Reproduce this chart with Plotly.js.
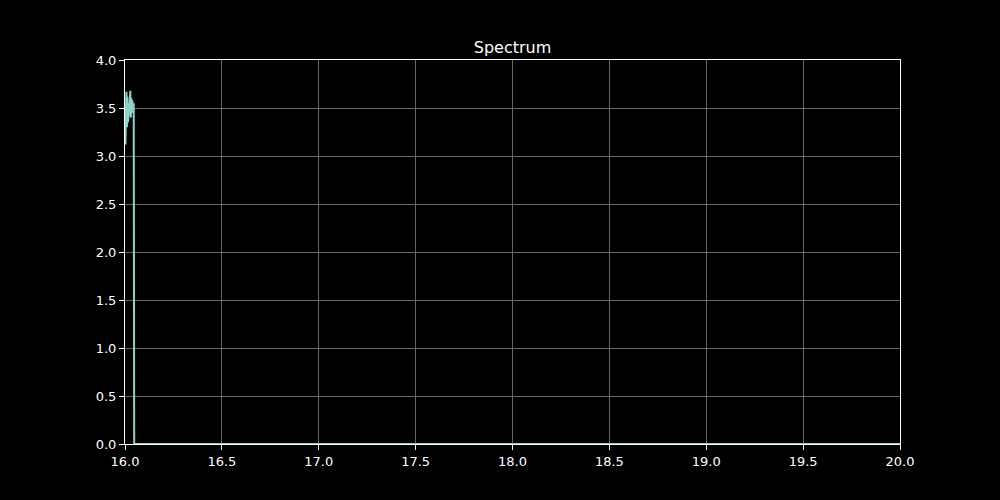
<!DOCTYPE html>
<html>
<head>
<meta charset="utf-8">
<script src="https://cdn.plot.ly/plotly-3.0.1.min.js"></script>
<style>html,body{margin:0;padding:0;background:#000;}#chart{width:1000px;height:500px;}</style>
</head>
<body>
<div id="chart"></div>
<script>
const freq = [16.000, 16.0025, 16.005, 16.0075, 16.010, 16.0125, 16.015, 16.0175, 16.020, 16.0225, 16.025, 16.0275, 16.030, 16.0325, 16.035, 16.0375, 16.040, 16.0425, 16.045, 16.0475, 16.5, 17.0, 17.5, 18.0, 18.5, 19.0, 19.5, 20.0];
const power = [3.15, 3.12, 3.50, 3.67, 3.30, 3.62, 3.35, 3.45, 3.40, 3.52, 3.56, 3.68, 3.40, 3.60, 3.45, 3.58, 3.50, 3.55, 3.55, 0, 0, 0, 0, 0, 0, 0, 0, 0];
const xTicks = [16.0, 16.5, 17.0, 17.5, 18.0, 18.5, 19.0, 19.5, 20.0];
const yTicks = [0.0, 0.5, 1.0, 1.5, 2.0, 2.5, 3.0, 3.5, 4.0];

const axisCommon = {
  showline: true, linecolor: '#ffffff', linewidth: 1, mirror: true,
  showgrid: true, gridcolor: '#666666', gridwidth: 1,
  zeroline: false, ticks: 'outside', ticklen: 5, tickcolor: '#ffffff', tickwidth: 1,
  tickfont: {family: 'DejaVu Sans', size: 13, color: '#ffffff'},
  tickformat: '.1f', tickmode: 'array'
};

Plotly.newPlot('chart', [{
  x: freq, y: power, type: 'scatter', mode: 'lines',
  line: {color: '#8dd3c7', width: 2}, hoverinfo: 'none'
}], {
  width: 1000, height: 500,
  paper_bgcolor: '#000000', plot_bgcolor: '#000000',
  margin: {l: 125, r: 100, t: 60, b: 56},
  title: {text: 'Spectrum', font: {family: 'DejaVu Sans', size: 16, color: '#ffffff'}, x: 0.5125, xanchor: 'center', y: 0.895, yanchor: 'bottom'},
  xaxis: Object.assign({}, axisCommon, {range: [16, 20], tickvals: xTicks}),
  yaxis: Object.assign({}, axisCommon, {range: [0, 4], tickvals: yTicks}),
  showlegend: false
}, {displayModeBar: false, staticPlot: true});
</script>
</body>
</html>
